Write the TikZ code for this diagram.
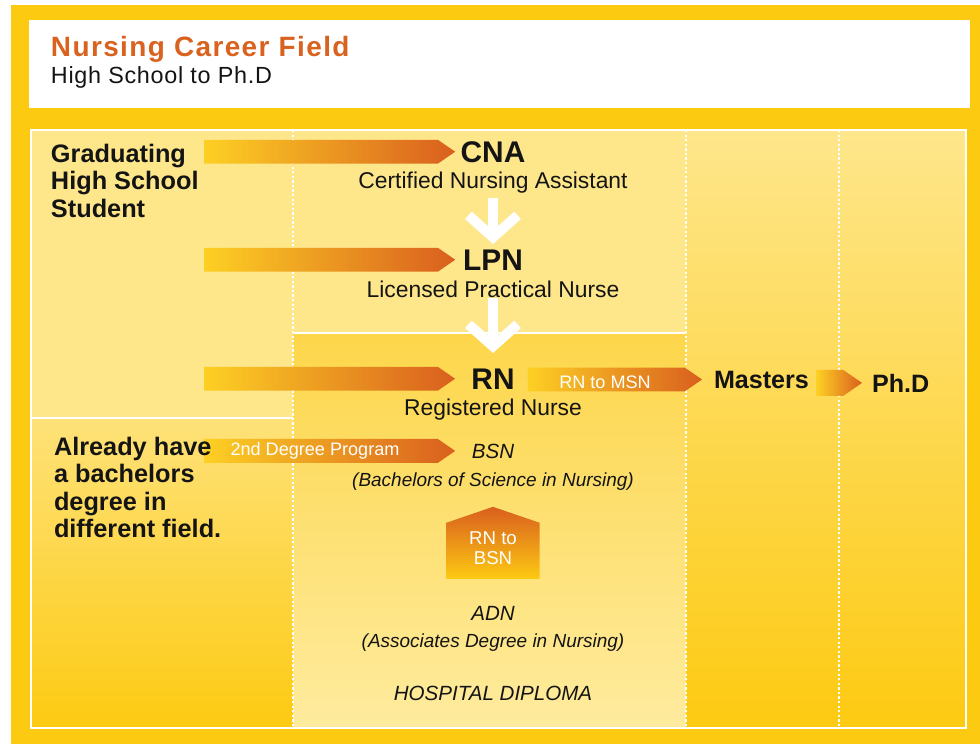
\documentclass[tikz,border=0pt]{standalone}
\usepackage{fontspec}
\setmainfont{Liberation Sans}
\usetikzlibrary{calc,arrows.meta}
\definecolor{gold}{HTML}{FDCA12}
\definecolor{paleyellow}{HTML}{FEE68B}
\definecolor{deepyellow}{HTML}{FDD64A}
\definecolor{lightyellow}{HTML}{FEEB9E}
\definecolor{trackyellow}{HTML}{FDD024}
\definecolor{rust}{HTML}{D95F1E}
\definecolor{titleorange}{HTML}{D9621F}
\definecolor{ink}{HTML}{141414}
\tikzset{every node/.style={inner sep=0pt, outer sep=0pt, text=ink},
   level/.style={font=\fontsize{17}{20}\selectfont\bfseries, anchor=base},
   levelname/.style={font=\fontsize{13}{15}\selectfont, anchor=base},
   degree/.style={font=\fontsize{11.7}{14}\selectfont\itshape, anchor=base},
   degreename/.style={font=\fontsize{10.8}{13}\selectfont\itshape, anchor=base},
   entry/.style={font=\fontsize{14.4}{15.6}\selectfont\bfseries, align=left, anchor=north west},
   goal/.style={font=\fontsize{14.3}{16}\selectfont\bfseries, anchor=base west},
   ontrack/.style={font=\fontsize{10.3}{11.3}\selectfont, text=white, anchor=base},
   track/.style={left color=trackyellow, right color=rust},
   stepdown/.style={white, line width=5.7pt, -{Straight Barb[length=12.5pt, width=28pt, sharp]}},
   divider/.style={white, line width=1.1pt},
   column/.style={white, line width=0.9pt, dash pattern=on 1.3pt off 1.3pt}}
\pgfdeclarelayer{panel}
\pgfdeclarelayer{tracks}
\pgfsetlayers{panel,tracks,main}
% shaded pentagon arrow: [half height]{tail}{tip}, tail takes the y of the tip
\newcommand{\track}[3][6.8pt]{%
   \shade[track] let \p1=(#2), \p2=(#3) in
      (\x1,\y2+#1) -- (\x2-1.45*#1,\y2+#1) -- (\x2,\y2) -- (\x2-1.45*#1,\y2-#1) -- (\x1,\y2-#1) -- cycle;}

\begin{document}
\begin{tikzpicture}[x=0.02cm, y=-0.02cm]
   \useasboundingbox (0,0) rectangle (980,744);
   \begin{pgfonlayer}{panel}
    \fill[white] (0,0) rectangle (980,744);
    \fill[gold] (11,5) rectangle (980,744);
    \fill[white] (29,20) rectangle (970,108);
    \fill[paleyellow] (31,130) rectangle (966,728);
    \shade[top color=paleyellow!85!gold, bottom color=gold] (31,418) rectangle (293,728);
    \shade[top color=deepyellow, bottom color=lightyellow] (293,333) rectangle (686,728);
    \shade[top color=paleyellow, middle color=paleyellow!65!gold, bottom color=gold] (686,130) rectangle (966,728);
    \foreach \x in {293,686,839}
     \draw[column] (\x,130) -- (\x,728);
    \draw[divider] (31,418) -- (293,418);
    \draw[divider] (293,333) -- (686,333);
    \draw[white, line width=1.4pt] (31,130) rectangle (966,728);
   \end{pgfonlayer}

   \node[font=\fontsize{15.9}{18}\selectfont\bfseries\addfontfeature{LetterSpace=5}, text=titleorange, anchor=base west] (title) at (51,56) {Nursing Career Field};
   \node[font=\fontsize{13.3}{15}\selectfont\addfontfeature{LetterSpace=3}, anchor=base west] (subtitle) at (51,83) {High School to Ph.D};

   \node[entry] (grad) at (51,144) {Graduating\\High School\\Student};
   \node[entry] (bach) at (54,437) {Already have\\a bachelors\\degree in\\different field.};

   \node[level] (cna) at (493,162) {CNA};
   \node[levelname] (cnaname) at (493,188) {Certified Nursing Assistant};
   \node[level] (lpn) at (493,270) {LPN};
   \node[levelname] (lpnname) at (493,297) {Licensed Practical Nurse};
   \node[level] (rn) at (493,389) {RN};
   \node[levelname] (rnname) at (493,415) {Registered Nurse};
   \node[degree] (bsn) at (493,458) {BSN};
   \node[degreename] (bsnname) at (493,486) {(Bachelors of Science in Nursing)};
   \node[degree] (adn) at (493,620) {ADN};
   \node[degreename] (adnname) at (493,647) {(Associates Degree in Nursing)};
   \node[degree] (diploma) at (493,700) {HOSPITAL DIPLOMA};
   \node[goal] (masters) at (714,388) {Masters};
   \node[goal] (phd) at (872,392) {Ph.D};

   \coordinate (tail1) at (204,153);
   \coordinate (tail2) at (204,261);
   \coordinate (tail3) at (204,378);
   \coordinate (tail4) at (204,449);
   \begin{pgfonlayer}{tracks}
    \track{tail1}{[xshift=-3.1pt]cna.west}
    \track{tail2}{[xshift=-4.5pt]lpn.west}
    \track{tail3}{[xshift=-9.3pt]rn.west}
    \track{tail4}{[xshift=-9.5pt]bsn.west}
    \track{[xshift=7.5pt]rn.east}{[xshift=-6.8pt]masters.west}
    \track[7.4pt]{[xshift=4.4pt]masters.east}{[xshift=-5.7pt]phd.west}
    \shade[top color=rust, bottom color=gold] let \p1=([yshift=15.3pt]adn.north), \p2=([yshift=-9.6pt]bsnname.south) in
       (\x1-26.6pt,\y1) -- (\x1-26.6pt,\y2-9.1pt) -- (\x1,\y2) -- (\x1+26.6pt,\y2-9.1pt) -- (\x1+26.6pt,\y1) -- cycle;
   \end{pgfonlayer}
   \node[ontrack] (second) at (315,455) {2nd Degree Program};
   \node[ontrack] (tomsn) at (605,388) {RN to MSN};
   \node[ontrack, align=center, anchor=north, font=\fontsize{10.6}{11.3}\selectfont] (tobsn) at (493,532) {RN to\\BSN};

   \draw[stepdown, shorten <=2.9pt, shorten >=3.1pt] (cnaname.south) -- (lpn.north);
   \draw[stepdown, shorten <=0.7pt, shorten >=8.8pt] (lpnname.south) -- (rn.north);
\end{tikzpicture}
\end{document}
